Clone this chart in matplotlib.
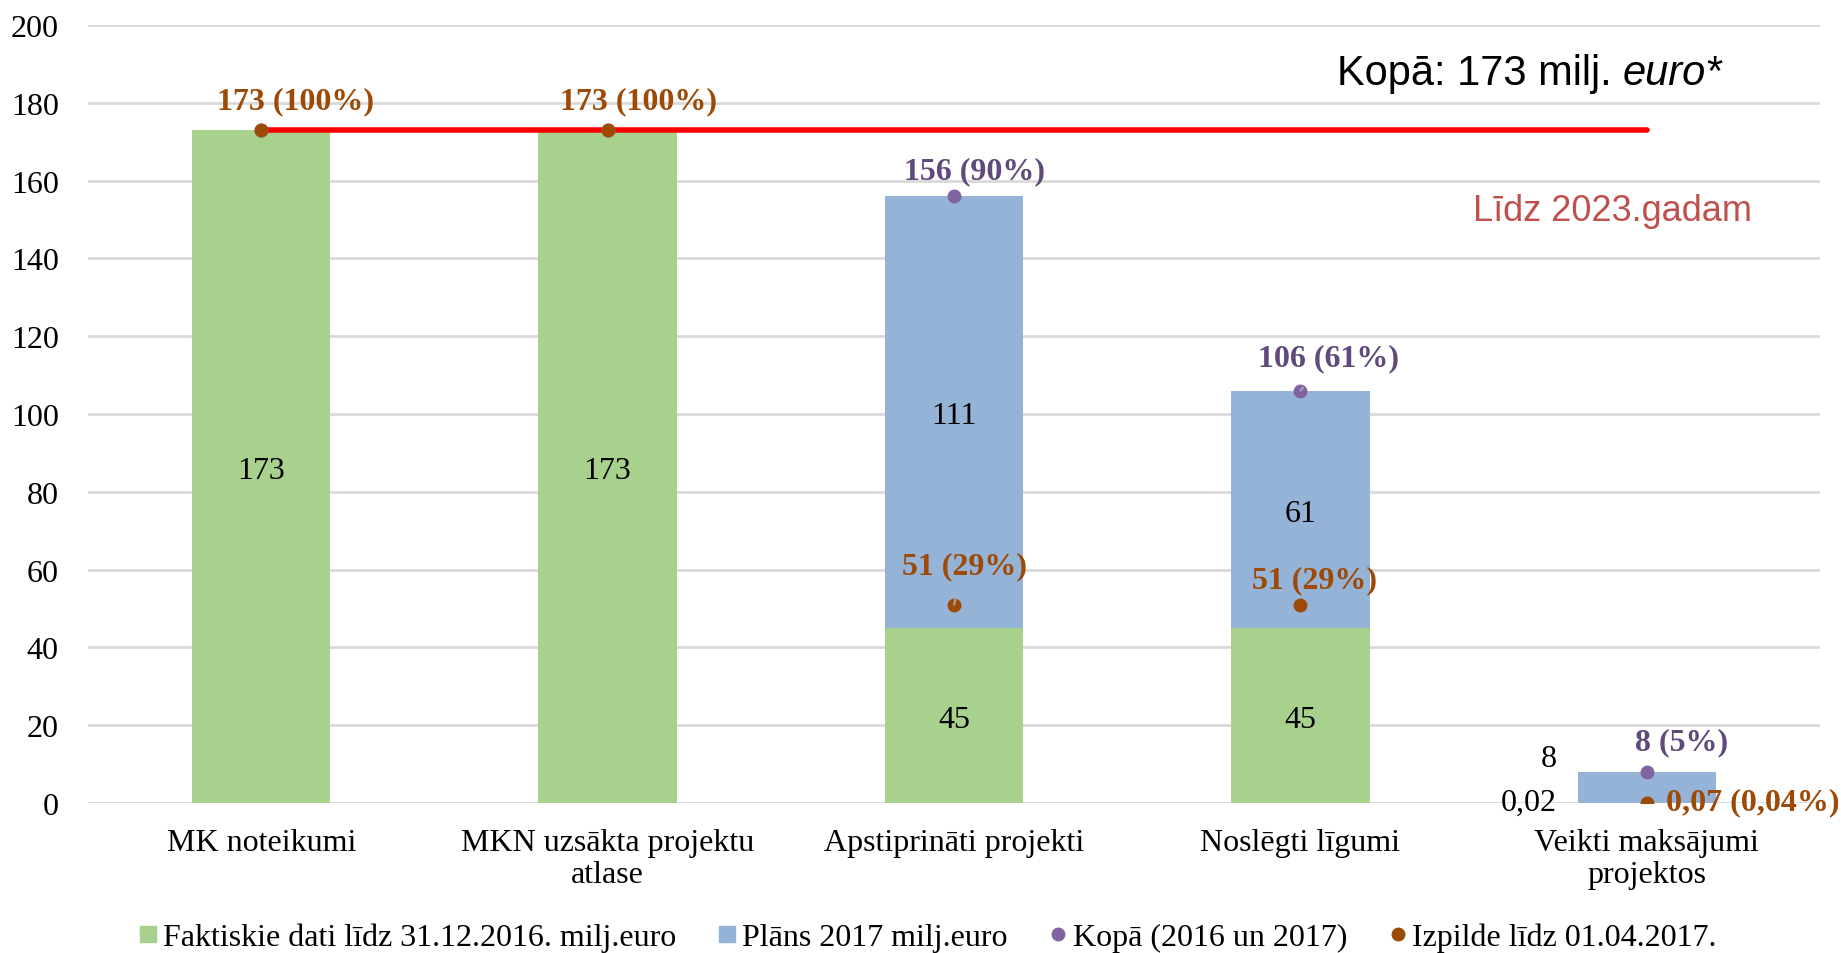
import numpy as np
import matplotlib.pyplot as plt
from matplotlib.lines import Line2D

plt.rcParams['font.family'] = ['Liberation Serif', 'DejaVu Serif']

# dati
kategorijas = ['MK noteikumi', 'MKN uzsākta projektu\natlase', 'Apstiprināti projekti',
               'Noslēgti līgumi', 'Veikti maksājumi\nprojektos']
fakts = [173, 173, 45, 45, 0.02]
plans = [0, 0, 111, 61, 8]
kopa = [173, 173, 156, 106, 8]
izpilde = [173, 173, 51, 51, 0.07]
kopa_txt = ['', '', '156 (90%)', '106 (61%)', '8 (5%)']
izpilde_txt = ['173 (100%)', '173 (100%)', '51 (29%)', '51 (29%)', '0,07 (0,04%)']
fakts_txt = ['173', '173', '45', '45', '0,02']
plans_txt = ['', '', '111', '61', '8']
merkis = 173

c_zals = '#A9D18E'
c_zils = '#95B3D7'
c_violets = '#8064A2'
c_violets_t = '#604A7B'
c_bruns = '#9C4A06'
fs = 23

fig = plt.figure(figsize=(18.41, 9.54), dpi=100)
ax = fig.add_axes([0.0478, 0.1572, 0.9408, 0.8155])

x = np.arange(len(kategorijas))
w = 0.4
ax.bar(x, fakts, w, color=c_zals, zorder=2)
ax.bar(x, plans, w, bottom=fakts, color=c_zils, zorder=2)

ax.plot([x[0], x[-1]], [merkis, merkis], color='#FF0000', lw=4, solid_capstyle='round', zorder=3)

ax.plot(x, kopa, 'o', color=c_violets, ms=9, ls='none', zorder=4)
ax.plot(x, izpilde, 'o', color=c_bruns, ms=9, ls='none', zorder=5)

# vērtības stabiņos
for i in range(4):
    ax.text(x[i], fakts[i] / 2 - 1, fakts_txt[i], ha='center', va='center', fontsize=fs)
    if plans[i] > 0:
        ax.text(x[i], fakts[i] + plans[i] / 2 - 1, plans_txt[i], ha='center', va='center', fontsize=fs)
ax.text(x[4] - 0.26, 11.5, plans_txt[4], ha='right', va='center', fontsize=fs)
ax.text(x[4] - 0.26, 0.3, fakts_txt[4], ha='right', va='center', fontsize=fs)

# kopā etiķetes
kopa_pos = [None, None, (0.06, 162.5), (0.08, 114.5), (0.1, 15.8)]
for i in range(2, 5):
    dx, ty = kopa_pos[i]
    ax.annotate(kopa_txt[i], xy=(x[i], kopa[i]), xytext=(x[i] + dx, ty), ha='center', va='center',
                fontsize=fs, fontweight='bold', color=c_violets_t,
                arrowprops=dict(arrowstyle='-', color='#A6A6A6', lw=1.5, shrinkA=12, shrinkB=0)
                if i == 3 else None, zorder=6)

# izpildes etiķetes
izp_pos = [(0.1, 180.5), (0.09, 180.5), (0.03, 61), (0.04, 57.5)]
for i in range(4):
    dx, ty = izp_pos[i]
    ax.annotate(izpilde_txt[i], xy=(x[i], izpilde[i]), xytext=(x[i] + dx, ty), ha='center', va='center',
                fontsize=fs, fontweight='bold', color=c_bruns,
                arrowprops=dict(arrowstyle='-', color='#A6A6A6', lw=1.5, shrinkA=12, shrinkB=0)
                if i == 2 else None, zorder=6)
ax.text(x[4] + 0.055, 0.3, izpilde_txt[4], ha='left', va='center', fontsize=fs,
        fontweight='bold', color=c_bruns)

t1 = ax.text(3.105, 187.6, 'Kopā: 173 milj. ', ha='left', va='center', fontsize=30,
             family='Liberation Sans')
ax.annotate('euro*', xy=(1, 0), xycoords=t1, ha='left', va='bottom', fontsize=30,
            family='Liberation Sans', style='italic')
ax.text(3.90, 152.3, 'Līdz 2023.gadam', ha='center', va='center', fontsize=26,
        family='Liberation Sans', color='#C0504D')

ax.set_xlim(-0.5, 4.5)
ax.set_ylim(0, 200)
ax.set_yticks(np.arange(0, 201, 20))
ax.set_xticks(x)
ax.set_xticklabels(kategorijas, fontsize=fs, linespacing=1.15)
ax.tick_params(axis='y', labelsize=fs, length=0, pad=21)
ax.tick_params(axis='x', length=0, pad=18)
ax.grid(axis='y', color='#D9D9D9', lw=2, zorder=0)
for s in ax.spines.values():
    s.set_visible(False)

handles = [Line2D([], [], marker='s', color=c_zals, ls='none', ms=12),
           Line2D([], [], marker='s', color=c_zils, ls='none', ms=12),
           Line2D([], [], marker='o', color=c_violets, ls='none', ms=9),
           Line2D([], [], marker='o', color=c_bruns, ls='none', ms=9)]
labels = ['Faktiskie dati līdz 31.12.2016. milj.euro', 'Plāns 2017 milj.euro',
          'Kopā (2016 un 2017)', 'Izpilde līdz 01.04.2017.']
fig.legend(handles, labels, loc='center', bbox_to_anchor=(0.504, 0.016), ncol=4, frameon=False,
           fontsize=fs, handlelength=0.6, handletextpad=0.15, columnspacing=1.3)

fig.savefig('out.png', dpi=100)
